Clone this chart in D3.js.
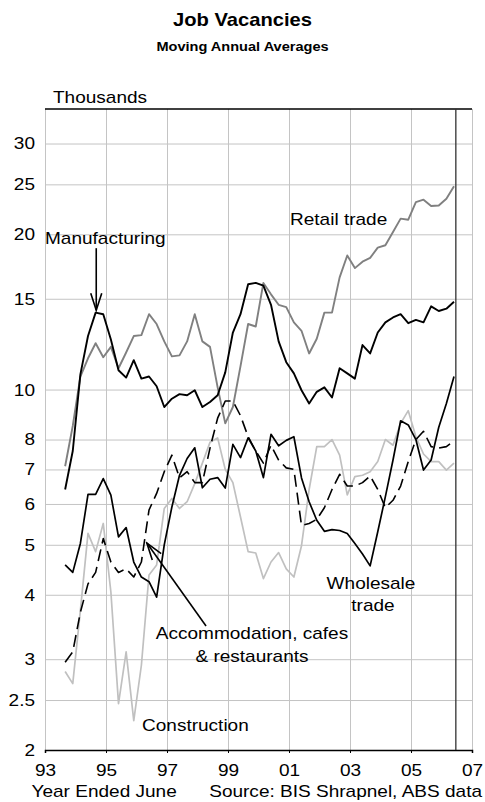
<!DOCTYPE html>
<html>
<head>
<meta charset="utf-8">
<script src="https://cdn.jsdelivr.net/npm/d3@7"></script>
<style>
  body { margin: 0; background: #fff; }
  text { font-family: "Liberation Sans", Arial, sans-serif; fill: #000; }
</style>
</head>
<body>
<div id="chart"></div>
<script>
// quarterly moving annual averages, thousands
const startYear = 1993.66;
const step = 0.25;

const manufacturing = [6.4, 7.6, 10.7, 12.7, 14.1, 14.0, 12.5, 10.9, 10.55, 11.4,
  10.5, 10.6, 10.15, 9.25, 9.6, 9.8, 9.75, 9.97, 9.25, 9.46,
  9.75, 10.8, 12.9, 14.0, 16.0, 16.1, 15.9, 14.6, 12.4, 11.3,
  10.75, 9.97, 9.4, 9.9, 10.1, 9.65, 11.0, 10.75, 10.5, 12.2,
  11.75, 12.9, 13.5, 13.8, 14.0, 13.45, 13.65, 13.5, 14.5, 14.2,
  14.35, 14.8];

const retail = [7.1, 8.5, 10.6, 11.5, 12.3, 11.55, 12.1, 11.0, 11.8, 12.7,
  12.75, 14.0, 13.4, 12.4, 11.6, 11.65, 12.4, 14.0, 12.4, 12.1,
  10.1, 8.6, 9.25, 11.1, 13.4, 13.25, 16.1, 15.3, 14.6, 14.45,
  13.5, 13.0, 11.75, 12.55, 14.1, 14.1, 16.5, 18.2, 17.2, 17.7,
  18.0, 18.85, 19.05, 20.2, 21.45, 21.35, 23.1, 23.35, 22.7, 22.75,
  23.45, 24.8];

const wholesale = [4.57, 4.42, 5.03, 6.26, 6.26, 6.72, 6.24, 5.18, 5.4, 4.63,
  4.33, 4.24, 3.96, 5.0, 5.92, 6.82, 7.35, 7.71, 6.45, 6.7,
  6.75, 6.44, 7.83, 7.38, 8.06, 7.6, 6.75, 8.19, 7.78, 7.97,
  8.1, 6.74, 6.06, 5.58, 5.31, 5.35, 5.33, 5.26, 5.03, 4.8,
  4.55, 5.3, 6.2, 7.3, 8.7, 8.54, 8.0, 6.98, 7.3, 8.45,
  9.4, 10.6];

const accommodation = [2.96, 3.1, 3.7, 4.2, 4.42, 5.14, 4.63, 4.42, 4.49, 4.33,
  4.63, 5.84, 6.29, 6.93, 7.46, 6.74, 6.93, 6.6, 6.6, 7.7,
  8.8, 9.5, 9.5, 8.9, 8.1, 7.6, 7.2, 7.8, 7.3, 7.05,
  7.0, 5.45, 5.5, 5.6, 5.9, 6.4, 6.85, 6.5, 6.5, 6.6,
  6.8, 6.4, 5.9, 6.1, 6.5, 7.25, 8.0, 8.3, 7.75, 7.7,
  7.75, 7.95];

const construction = [2.84, 2.69, 3.73, 5.26, 4.85, 5.5, 4.05, 2.46, 3.1, 2.28,
  2.92, 4.37, 4.57, 5.88, 6.15, 5.88, 6.06, 6.57, 7.2, 7.9,
  8.06, 7.0, 6.6, 5.66, 4.85, 4.82, 4.3, 4.63, 4.83, 4.49,
  4.33, 4.98, 6.4, 7.75, 7.75, 8.0, 7.46, 6.25, 6.78, 6.82,
  6.93, 7.25, 8.0, 7.8, 8.6, 9.1, 8.1, 7.5, 7.25, 7.25,
  6.98, 7.2];

const yTicks = [2, 2.5, 3, 4, 5, 6, 7, 8, 10, 15, 20, 25, 30];
const xTicks = [1993, 1995, 1997, 1999, 2001, 2003, 2005, 2007];
const breakYear = 2006.47;

const W = 485, H = 802;
const margin = { top: 109, right: 13, bottom: 52, left: 45 };
const width = W - margin.left - margin.right;
const height = H - margin.top - margin.bottom;
const sx = 1.12; // the source type is a little wide

const svg = d3.select("#chart").append("svg")
  .attr("width", W).attr("height", H);

const x = d3.scaleLinear().domain([1993, 2007]).range([margin.left, margin.left + width]);
const y = d3.scaleLog().domain([2, 35]).range([margin.top + height, margin.top]);

function label(px, py, str, opts = {}) {
  return svg.append("text")
    .attr("transform", `translate(${px},${py}) scale(${sx},1)`)
    .attr("text-anchor", opts.anchor || "start")
    .style("font-size", (opts.size || 17) + "px")
    .style("font-weight", opts.weight || "normal")
    .text(str);
}

// titles
label(W / 2, 26, "Job Vacancies", { anchor: "middle", size: 18, weight: "bold" });
label(W / 2, 51, "Moving Annual Averages", { anchor: "middle", size: 13, weight: "bold" });
label(53, 103, "Thousands");

// grid
svg.append("g")
  .attr("transform", `translate(${margin.left},0)`)
  .call(d3.axisLeft(y).tickValues(yTicks).tickSize(-width).tickFormat(""))
  .call(g => g.select(".domain").remove())
  .call(g => g.selectAll("line").attr("stroke", "#c4c4c4").attr("stroke-width", 1));

svg.append("g")
  .attr("transform", `translate(0,${margin.top + height})`)
  .call(d3.axisBottom(x).tickValues(xTicks).tickSize(-height).tickFormat(""))
  .call(g => g.select(".domain").remove())
  .call(g => g.selectAll("line").attr("stroke", "#c4c4c4").attr("stroke-width", 1));

// y labels
const yAxis = svg.append("g")
  .attr("transform", `translate(${margin.left},0)`)
  .call(d3.axisLeft(y).tickValues(yTicks).tickSize(0).tickFormat(d3.format("")));
yAxis.select(".domain").remove();
yAxis.selectAll("text")
  .attr("x", -10 / sx)
  .attr("transform", `scale(${sx},1)`)
  .style("font-size", "17px")
  .style("font-family", "Liberation Sans, Arial, sans-serif");

// x axis
const xAxis = svg.append("g")
  .attr("transform", `translate(0,${margin.top + height})`)
  .call(d3.axisBottom(x).tickValues(xTicks).tickSize(3).tickFormat(d => String(d).slice(2)));
xAxis.select(".domain").attr("stroke", "#000").attr("stroke-width", 1.5);
xAxis.selectAll("line").attr("stroke", "#000");
xAxis.selectAll("text")
  .attr("y", 14)
  .attr("transform", `scale(${sx},1)`)
  .style("font-size", "17px")
  .style("font-family", "Liberation Sans, Arial, sans-serif");

label(31.5, 797, "Year Ended June");
label(482, 797, "Source: BIS Shrapnel, ABS data", { anchor: "end" });

// top border and break line
svg.append("line")
  .attr("x1", margin.left).attr("x2", margin.left + width)
  .attr("y1", margin.top).attr("y2", margin.top)
  .attr("stroke", "#000").attr("stroke-width", 1.3);
svg.append("line")
  .attr("x1", x(breakYear)).attr("x2", x(breakYear))
  .attr("y1", margin.top).attr("y2", margin.top + height)
  .attr("stroke", "#333").attr("stroke-width", 1.3);

// series
const series = [
  { name: "construction", values: construction, color: "#c0c0c0", dash: null, w: 1.7 },
  { name: "retail", values: retail, color: "#808080", dash: null, w: 1.9 },
  { name: "accommodation", values: accommodation, color: "#000", dash: "12,6", w: 1.6 },
  { name: "wholesale", values: wholesale, color: "#000", dash: null, w: 1.7 },
  { name: "manufacturing", values: manufacturing, color: "#000", dash: null, w: 1.9 }
];

const line = d3.line()
  .x((d, i) => x(startYear + i * step))
  .y(d => y(d));

svg.selectAll("path.series")
  .data(series)
  .enter()
  .append("path")
  .attr("class", "series")
  .attr("d", d => line(d.values))
  .attr("fill", "none")
  .attr("stroke", d => d.color)
  .attr("stroke-width", d => d.w)
  .attr("stroke-dasharray", d => d.dash)
  .attr("stroke-linejoin", "round");

// arrows
const defs = svg.append("defs");
defs.append("marker")
  .attr("id", "head")
  .attr("viewBox", "-20 -8 22 16")
  .attr("refX", 0).attr("refY", 0)
  .attr("markerWidth", 22).attr("markerHeight", 16)
  .attr("markerUnits", "userSpaceOnUse")
  .attr("orient", "auto")
  .append("path")
  .attr("d", "M-17,-5.5L0,0L-17,5.5")
  .attr("fill", "none").attr("stroke", "#000").attr("stroke-width", 1.6);

const arrows = [
  { from: [1994.68, 18.8], to: [1994.68, 14.25] },
  { from: [1998.28, 3.48], to: [1996.34, 5.04] }
];
svg.selectAll("line.arrow")
  .data(arrows)
  .enter()
  .append("line")
  .attr("class", "arrow")
  .attr("x1", d => x(d.from[0])).attr("y1", d => y(d.from[1]))
  .attr("x2", d => x(d.to[0])).attr("y2", d => y(d.to[1]))
  .attr("stroke", "#000").attr("stroke-width", 1.6)
  .attr("marker-end", "url(#head)");

// labels
label(45, 244, "Manufacturing");
label(290, 225, "Retail trade");
label(371, 589, "Wholesale", { anchor: "middle" });
label(373, 611, "trade", { anchor: "middle" });
label(252, 639, "Accommodation, cafes", { anchor: "middle" });
label(252, 662, "& restaurants", { anchor: "middle" });
label(142, 731, "Construction");
</script>
</body>
</html>
